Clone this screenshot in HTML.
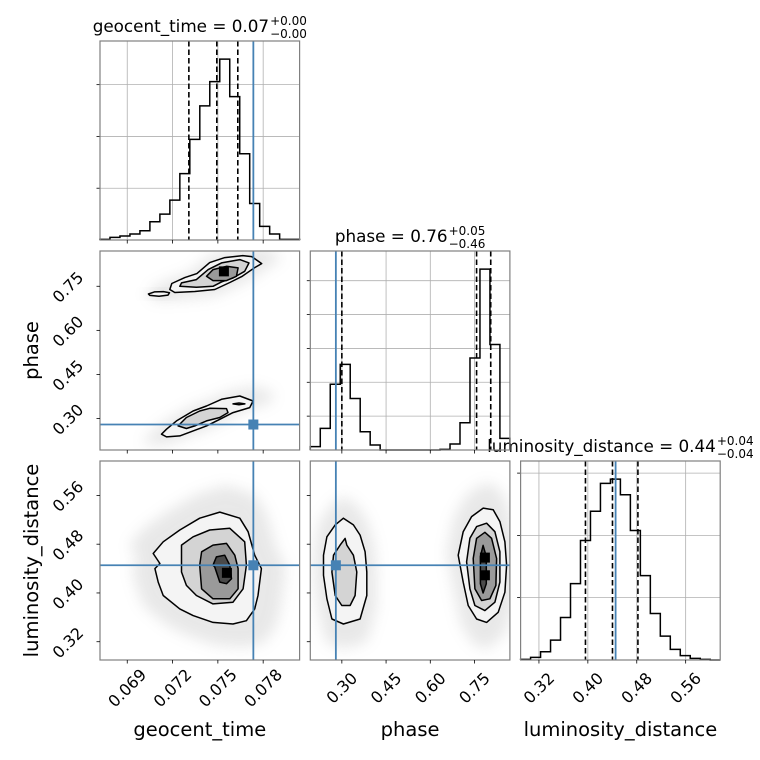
<!DOCTYPE html>
<html><head><meta charset="utf-8">
<style>
html,body{margin:0;padding:0;background:#fff;}
svg{display:block;font-family:"DejaVu Sans","Liberation Sans",sans-serif;}
</style></head>
<body>
<svg id="c" width="760" height="760" viewBox="0 0 760 760" xmlns="http://www.w3.org/2000/svg">
<defs><filter id="blur" x="-50%" y="-50%" width="200%" height="200%"><feGaussianBlur stdDeviation="7"/></filter></defs>
</svg>
<script>
// ---- data ----
const paramNames = ["geocent_time","phase","luminosity_distance"];
const ranges = [[0.067196,0.080412],[0.1930,0.8700],[0.2900,0.6165]];
const truths = [0.07735, 0.2797, 0.4454];
const quantiles0 = [0.07308, 0.07493, 0.07632];
const quantiles1 = [0.3000, 0.7570, 0.8050];
const quantiles2 = [0.3961, 0.4403, 0.4819];
const ticks0 = [0.069,0.072,0.075,0.078];
const tickLabels0 = ["0.069","0.072","0.075","0.078"];
const ticks1 = [0.30,0.45,0.60,0.75];
const tickLabels1 = ["0.30","0.45","0.60","0.75"];
const ticks2 = [0.32,0.40,0.48,0.56];
const tickLabels2 = ["0.32","0.40","0.48","0.56"];
const counts0 = [2,8,12,18,28,55,78,120,200,303,404,477,545,432,260,110,41,18,2,2];
const counts1 = [10,65,198,258,155,55,15,0,0,0,0,0,0,2,18,82,277,545,318,35];
const counts2 = [2,8,25,60,128,230,360,448,532,545,498,390,254,140,72,32,13,5,2,0];
const countTicks0 = [156,312,468];
const countTicks1 = [102,204,306,408,510];
const countTicks2 = [188,375,563];
const titles = ["geocent_time = 0.07","phase = 0.76","luminosity_distance = 0.44"];
const titleUp = ["+0.00","+0.05","+0.04"];
const titleDn = ["\u22120.00","\u22120.46","\u22120.04"];
// contours [x,y] in data units
const tp_island = [[0.0704,0.7236],[0.0708,0.731],[0.0714,0.732],[0.0718,0.728],[0.0717,0.720],[0.0711,0.716],[0.0705,0.719]];
const tp_upper1 = [[0.07182,0.7389],[0.07195,0.7593],[0.07281,0.7796],[0.07361,0.7932],[0.07446,0.8305],[0.07546,0.8474],[0.07665,0.8542],[0.07724,0.8508],[0.07790,0.8271],[0.07744,0.8135],[0.07658,0.7830],[0.07579,0.7627],[0.07480,0.7389],[0.07347,0.7321],[0.07215,0.7287]];
const tp_upper2 = [[0.07248,0.7500],[0.07259,0.7616],[0.07358,0.7728],[0.07436,0.8068],[0.07524,0.8294],[0.07645,0.8407],[0.07706,0.8294],[0.07678,0.8010],[0.07601,0.7786],[0.07524,0.7650],[0.07468,0.7500],[0.07358,0.7466]];
const tp_upper3 = [[0.07425,0.7840],[0.07468,0.8068],[0.07557,0.8180],[0.07634,0.8125],[0.07623,0.7840],[0.07557,0.7694],[0.07468,0.7694]];
const tp_lower1 = [[0.07127,0.2468],[0.07160,0.2637],[0.07226,0.2919],[0.07336,0.3258],[0.07425,0.3428],[0.07524,0.3655],[0.07645,0.3767],[0.07733,0.3597],[0.07711,0.3373],[0.07600,0.3204],[0.07513,0.2976],[0.07425,0.2749],[0.07336,0.2579],[0.07248,0.2409],[0.07160,0.2375]];
const tp_lower2 = [[0.07237,0.2749],[0.07292,0.3034],[0.07380,0.3258],[0.07446,0.3350],[0.07557,0.3339],[0.07567,0.3204],[0.07513,0.3034],[0.07425,0.2919],[0.07347,0.2749],[0.07292,0.2661]];
const tp_lower3 = [[0.07600,0.3500],[0.07640,0.3530],[0.07679,0.3500],[0.07640,0.3470]];
const tl_1 = [[0.07072,0.4648],[0.07138,0.4840],[0.07248,0.5033],[0.07380,0.5226],[0.07513,0.5326],[0.07645,0.5226],[0.07700,0.5005],[0.07744,0.4620],[0.07788,0.4400],[0.07766,0.3959],[0.07744,0.3739],[0.07689,0.3545],[0.07600,0.3491],[0.07468,0.3517],[0.07336,0.3628],[0.07248,0.3739],[0.07138,0.3959],[0.07105,0.4178],[0.07083,0.4400],[0.07116,0.4483]];
const tl_2 = [[0.07259,0.4344],[0.07259,0.4785],[0.07336,0.4922],[0.07446,0.5033],[0.07579,0.5061],[0.07678,0.4840],[0.07689,0.4455],[0.07667,0.4069],[0.07600,0.3848],[0.07468,0.3821],[0.07358,0.3959],[0.07292,0.4124]];
const tl_3 = [[0.07380,0.4455],[0.07392,0.4675],[0.07468,0.4785],[0.07557,0.4813],[0.07612,0.4620],[0.07634,0.4400],[0.07634,0.4069],[0.07579,0.3904],[0.07468,0.3904],[0.07392,0.4069]];
const tl_4 = [[0.07468,0.4455],[0.07490,0.4592],[0.07545,0.4620],[0.07579,0.4455],[0.07590,0.4234],[0.07557,0.4152],[0.07513,0.4178],[0.07479,0.4427]];
const pl_left1 = [[0.2377,0.4620],[0.2492,0.4922],[0.2773,0.5116],[0.3054,0.5226],[0.3393,0.5116],[0.3620,0.4950],[0.3789,0.4675],[0.3847,0.4344],[0.3847,0.3959],[0.3620,0.3573],[0.3054,0.3491],[0.2661,0.3573],[0.2492,0.3904],[0.2377,0.4289]];
const pl_left2 = [[0.2661,0.4344],[0.2716,0.4620],[0.2942,0.4785],[0.3112,0.4895],[0.3169,0.4785],[0.3393,0.4620],[0.3508,0.4344],[0.3450,0.3959],[0.3281,0.3794],[0.3000,0.3794],[0.2773,0.3959]];
const pl_right1 = [[0.6948,0.4620],[0.7117,0.5005],[0.7402,0.5253],[0.7795,0.5392],[0.8133,0.5364],[0.8360,0.5170],[0.8530,0.4840],[0.8587,0.4455],[0.8530,0.4013],[0.8303,0.3683],[0.7910,0.3517],[0.7571,0.3573],[0.7287,0.3794],[0.7117,0.4178]];
const pl_right2 = [[0.7233,0.4510],[0.7344,0.4896],[0.7571,0.5088],[0.7910,0.5144],[0.8191,0.5005],[0.8360,0.4675],[0.8360,0.4178],[0.8191,0.3848],[0.7852,0.3711],[0.7514,0.3794],[0.7344,0.4069]];
const pl_right3 = [[0.7456,0.4565],[0.7571,0.4896],[0.7852,0.4995],[0.8078,0.4896],[0.8248,0.4565],[0.8225,0.4124],[0.8022,0.3904],[0.7740,0.3876],[0.7514,0.4069]];
const pl_right4 = [[0.7700,0.4600],[0.7790,0.4780],[0.7900,0.4600],[0.7900,0.4150],[0.7790,0.4000],[0.7700,0.4150]];

// ---- layout ----
const X0=[100,310.3,520.6], Y0=[41,251,461], W=199.6, H=199;
const NS="http://www.w3.org/2000/svg";
const svg=document.getElementById('c');
function el(tag,attrs,parent){const e=document.createElementNS(NS,tag);for(const k in attrs)e.setAttribute(k,attrs[k]);(parent||svg).appendChild(e);return e;}
function sx(col,v){const r=ranges[col];return X0[col]+(v-r[0])/(r[1]-r[0])*W;}
function sy(row,v){const r=ranges[row];return Y0[row]+H-(v-r[0])/(r[1]-r[0])*H;}
const ticks=[ticks0,ticks1,ticks2], tickLabels=[tickLabels0,tickLabels1,tickLabels2];
const counts=[counts0,counts1,counts2], countTicks=[countTicks0,countTicks1,countTicks2];
const quants=[quantiles0,quantiles1,quantiles2];
const blue="#4682b4";

function clip(id,i,j){const cp=el('clipPath',{id:id});el('rect',{x:X0[j],y:Y0[i],width:W,height:H},cp);return cp;}

// ---- histograms ----
for(let k=0;k<3;k++){
  const g=el('g',{});
  
  
  const c=counts[k], ymax=1.1*Math.max(...c), n=c.length, r=ranges[k];
  const cy=v=>Y0[k]+H-v/ymax*H;
  ticks[k].forEach(t=>{const l=el('line',{x1:sx(k,t),x2:sx(k,t),y1:Y0[k],y2:Y0[k]+H,stroke:'#b0b0b0','stroke-width':0.8},g);
    });
  countTicks[k].forEach(t=>{const l=el('line',{x1:X0[k],x2:X0[k]+W,y1:cy(t),y2:cy(t),stroke:'#b0b0b0','stroke-width':0.8},g);
    
    const tk=el('line',{x1:X0[k]-3.5,x2:X0[k],y1:cy(t),y2:cy(t),stroke:'#000','stroke-width':0.8},g);
    });
  let d='M'+X0[k]+','+cy(0);
  for(let b=0;b<n;b++){const xa=sx(k,r[0]+(r[1]-r[0])*b/n), xb=sx(k,r[0]+(r[1]-r[0])*(b+1)/n);
    d+=' L'+xa+','+cy(c[b])+' L'+xb+','+cy(c[b]);}
  d+=' L'+(X0[k]+W)+','+cy(0);
  const p=el('path',{d:d,fill:'none',stroke:'#000','stroke-width':1.5},g);
  
  quants[k].forEach(q=>{const l=el('line',{x1:sx(k,q),x2:sx(k,q),y1:Y0[k],y2:Y0[k]+H,stroke:'#000','stroke-width':1.6,'stroke-dasharray':'5.5,3'},g);
    });
  const tl=el('line',{x1:sx(k,truths[k]),x2:sx(k,truths[k]),y1:Y0[k],y2:Y0[k]+H,stroke:blue,'stroke-width':1.8},g);
  
  const cx=X0[k]+W/2;
  const t=el('text',{x:0,y:Y0[k]-9,'font-size':16.8,fill:'#000'},g);
  t.textContent=titles[k];
  
  const tu=el('text',{x:0,y:Y0[k]-16,'font-size':12},g);tu.textContent=titleUp[k];
  
  const td=el('text',{x:0,y:Y0[k]-3,'font-size':12},g);td.textContent=titleDn[k];
  
  const w1=t.getComputedTextLength(), w2=Math.max(tu.getComputedTextLength(),td.getComputedTextLength());
  const sx0=cx-(w1+w2+1)/2;
  t.setAttribute('x',sx0);tu.setAttribute('x',sx0+w1+1);td.setAttribute('x',sx0+w1+1);
}

// ---- 2D panels ----
function poly(pts,col,row){return pts.map((p,i)=>(i?'L':'M')+sx(col,p[0]).toFixed(1)+','+sy(row,p[1]).toFixed(1)).join(' ')+' Z';}
function haze(pts,col,row,g,s,op){
  let mx=0,my=0;pts.forEach(p=>{mx+=p[0];my+=p[1];});mx/=pts.length;my/=pts.length;
  const sc=pts.map(p=>[mx+(p[0]-mx)*s,my+(p[1]-my)*s]);
  const h=el('path',{d:poly(sc,col,row),fill:'#999',opacity:op,filter:'url(#blur)'},g);
  
}
const panels=[
  {row:1,col:0,levels:[[tp_upper1,tp_lower1,tp_island],[tp_upper2,tp_lower2],[tp_upper3,tp_lower3]],name:'geocent-time-vs-phase'},
  {row:2,col:0,levels:[[tl_1],[tl_2],[tl_3],[tl_4]],name:'geocent-time-vs-luminosity-distance'},
  {row:2,col:1,levels:[[pl_left1,pl_right1],[pl_left2,pl_right2],[pl_right3],[pl_right4]],name:'phase-vs-luminosity-distance'}
];
const fills=['#f4f4f4','#d4d4d4','#9a9a9a','#4a4a4a'];
// dark density cells: [col,row,x,y]
const darkCells=[[0,1,0.0754,0.8007],[0,2,0.0756,0.4330],[1,2,0.7852,0.4290],[1,2,0.7852,0.4580]];
panels.forEach((P,pi)=>{
  const g=el('g',{'clip-path':'url(#cp'+pi+')'});
  clip('cp'+pi,P.row,P.col);
  
  P.levels[0].forEach(c=>haze(c,P.col,P.row,g,1.45,0.22));
  P.levels.forEach((lv,li)=>lv.forEach(c=>{
    const p=el('path',{d:poly(c,P.col,P.row),fill:fills[li],stroke:'#000','stroke-width':1.5,'stroke-linejoin':'round'},g);
    
  }));
  darkCells.filter(dc=>dc[0]===P.col&&dc[1]===P.row).forEach(dc=>{
    const r=el('rect',{x:sx(dc[0],dc[2])-5,y:sy(dc[1],dc[3])-5,width:10,height:10,fill:'#000'},g);
    });
  const tx=sx(P.col,truths[P.col]), ty=sy(P.row,truths[P.row]);
  const v=el('line',{x1:tx,x2:tx,y1:Y0[P.row],y2:Y0[P.row]+H,stroke:blue,'stroke-width':1.8},g);
  
  const h=el('line',{x1:X0[P.col],x2:X0[P.col]+W,y1:ty,y2:ty,stroke:blue,'stroke-width':1.8},g);
  
  const m=el('rect',{x:tx-5,y:ty-5,width:10,height:10,fill:blue},g);
  
});

// ---- frames, ticks ----
const cells=[[0,0],[1,0],[1,1],[2,0],[2,1],[2,2]];
cells.forEach(([i,j])=>{
  const f=el('rect',{x:X0[j],y:Y0[i],width:W,height:H,fill:'none',stroke:'#808080','stroke-width':1.2});
  
  ticks[j].forEach(t=>{const l=el('line',{x1:sx(j,t),x2:sx(j,t),y1:Y0[i]+H,y2:Y0[i]+H+3.5,stroke:'#000','stroke-width':0.8});
    });
  if(i!==j){ticks[i].forEach(t=>{const l=el('line',{x1:X0[j]-3.5,x2:X0[j],y1:sy(i,t),y2:sy(i,t),stroke:'#000','stroke-width':0.8});
    });}
});
for(let j=0;j<3;j++){
  ticks[j].forEach((t,k)=>{const x=sx(j,t), y=Y0[2]+H+28;
    const tx=el('text',{x:x,y:y,'font-size':16,'text-anchor':'middle','dominant-baseline':'central',transform:'rotate(-45 '+x+' '+y+')'});
    tx.textContent=tickLabels[j][k];
    });
  const lab=el('text',{x:X0[j]+W/2,y:736,'font-size':19.5,'text-anchor':'middle'});
  lab.textContent=paramNames[j];
  
}
for(let i=1;i<3;i++){
  ticks[i].forEach((t,k)=>{const x=X0[0]-32, y=sy(i,t)+1;
    const tx=el('text',{x:x,y:y,'font-size':16,'text-anchor':'middle','dominant-baseline':'central',transform:'rotate(-45 '+x+' '+y+')'});
    tx.textContent=tickLabels[i][k];
    });
  const cy=Y0[i]+H/2;
  const lab=el('text',{x:38,y:cy,'font-size':19.5,'text-anchor':'middle',transform:'rotate(-90 38 '+cy+')'});
  lab.textContent=paramNames[i];
  
}
</script>
</body></html>
